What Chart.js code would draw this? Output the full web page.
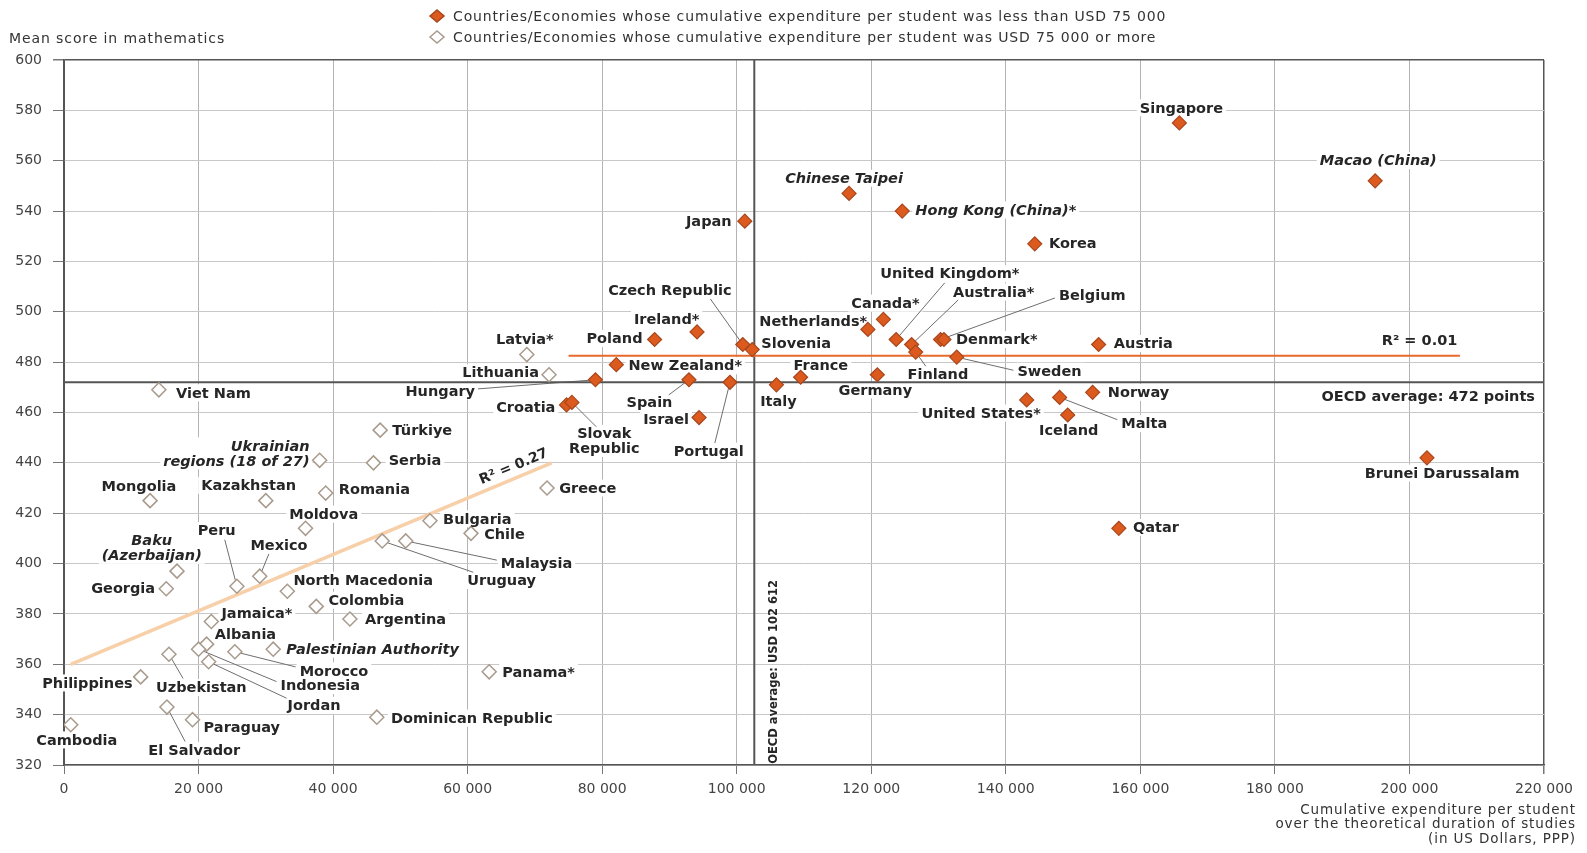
<!DOCTYPE html>
<html>
<head>
<meta charset="utf-8">
<script src="https://cdn.jsdelivr.net/npm/chart.js@4.4.1/dist/chart.umd.min.js"></script>
<style>
html,body{margin:0;padding:0;background:#fff;}
#wrap{width:1587px;height:853px;position:relative;}
canvas{display:block;}
</style>
</head>
<body>
<div id="wrap"><canvas id="c" width="1587" height="853"></canvas></div>
<script>
// ---------------- DATA ----------------
const filledNames = ['Singapore','Macao (China)','Chinese Taipei','Hong Kong (China)*','Japan','Korea','Canada*','Netherlands*','United Kingdom*','Australia*','Finland','Belgium','Denmark*','Austria','Sweden','Czech Republic','Slovenia','Ireland*','Poland','New Zealand*','Hungary','Croatia','Slovak Republic','Spain','Israel','Portugal','Italy','France','Germany','United States*','Malta','Iceland','Norway','Qatar','Brunei Darussalam'];
const filledX = [165800,194900,116700,124600,101200,144300,121800,119500,123700,126000,126600,130300,130800,153800,132700,100900,102300,94100,87800,82100,79000,74700,75500,92900,94400,99000,105900,109500,120900,143100,148000,149200,152900,156800,202600];
const filledY = [575,552,547,540,536,527,497,493,489,487,484,489,489,487,482,487,485,492,489,479,473,463,464,473,458,472,471,474,475,465,466,459,468,414,442];

const hollowNames = ['Latvia*','Lithuania','Viet Nam','Türkiye','Ukrainian regions (18 of 27)','Serbia','Greece','Romania','Mongolia','Kazakhstan','Bulgaria','Moldova','Chile','Uruguay','Malaysia','Baku (Azerbaijan)','Peru','Mexico','Georgia','North Macedonia','Colombia','Jamaica*','Argentina','Albania','Palestinian Authority','Morocco','Indonesia','Jordan','Uzbekistan','Philippines','Panama*','Dominican Republic','Paraguay','El Salvador','Cambodia'];
const hollowX = [68800,72100,14100,47000,38000,46000,71800,38900,12800,30000,54400,35900,60500,47300,50800,16800,25700,29100,15200,33200,37500,21900,42500,21200,31100,25400,20000,21500,15600,11400,63200,46500,19100,15300,1000];
const hollowY = [483,475,469,453,441,440,430,428,425,425,417,414,412,409,409,397,391,395,390,389,383,377,378,368,366,365,366,361,364,355,357,339,338,343,336];

const trendHollowX = [1000, 72500];
const trendHollowY = [360, 440];
const trendFilledX = [75000, 207500];
const trendFilledY = [482.5, 482.5];

const oecdScore = 472;
const oecdSpend = 102612;

const xTickValues = [0,20000,40000,60000,80000,100000,120000,140000,160000,180000,200000,220000];
const yTickValues = [320,340,360,380,400,420,440,460,480,500,520,540,560,580,600];

const legendLabels = [
  'Countries/Economies whose cumulative expenditure per student was less than USD 75 000',
  'Countries/Economies whose cumulative expenditure per student was USD 75 000 or more'
];
const yTitle = 'Mean score in mathematics';
const xTitleLines = ['Cumulative expenditure per student','over the theoretical duration of studies','(in US Dollars, PPP)'];
const r2Filled = 'R\u00B2 = 0.01';
const r2Hollow = 'R\u00B2 = 0.27';
const oecdScoreText = 'OECD average: 472 points';
const oecdSpendText = 'OECD average: USD 102 612';

// ---------------- LABEL LAYOUT (pixel offsets from each point, separate from data) ----------------
// [dx, dy, align, leaderDx, leaderDy]
const labelLayout = {
 'Singapore':[2,-15,'c'], 'Macao (China)':[3,-20,'c'], 'Chinese Taipei':[-5,-15,'c'],
 'Hong Kong (China)*':[13,-1,'l'], 'Japan':[-13,0,'r'], 'Korea':[14,-1,'l'],
 'Czech Republic':[-72,-54,'c',-32,-45], 'Ireland*':[-30,-13,'c'], 'Poland':[-12,-1,'r'],
 'Netherlands*':[-54,-8,'c'], 'Canada*':[2,-16,'c'],
 'United Kingdom*':[53,-65,'c',48,-56], 'Australia*':[81,-52,'c',46,-44],
 'Belgium':[117,-44,'l',113,-41], 'Denmark*':[12,0,'l'], 'Finland':[22,22,'c',10,14],
 'Sweden':[60,14,'l',56,13], 'Austria':[15,-1,'l'], 'Slovenia':[9,-6,'l'],
 'New Zealand*':[12,1,'l'], 'Hungary':[-119,11,'r',-116,9], 'Croatia':[-11,2,'r'],
 'Slovak Republic':[32,38,'c',24,24], 'Spain':[-39,22,'c',-20,15], 'Israel':[-10,2,'r'],
 'Portugal':[-21,68,'c',-15,60], 'Italy':[2,16,'c'], 'France':[20,-12,'c'],
 'Germany':[-2,15,'c'], 'United States*':[-45,13,'c'], 'Iceland':[1,15,'c'],
 'Malta':[61,26,'l',57,22], 'Norway':[15,0,'l'], 'Qatar':[14,-1,'l'],
 'Brunei Darussalam':[15,15,'c'],
 'Latvia*':[-2,-15,'c'], 'Lithuania':[-10,-2,'r'], 'Viet Nam':[17,3,'l'], 'Türkiye':[12,0,'l'],
 'Ukrainian regions (18 of 27)':[-10,-7,'r'], 'Serbia':[15,-3,'l'], 'Greece':[12,0,'l'],
 'Romania':[13,-4,'l'], 'Mongolia':[-11,-14,'c'], 'Kazakhstan':[-17,-15,'c'],
 'Bulgaria':[13,-2,'l'], 'Moldova':[18,-14,'c'], 'Chile':[13,1,'l'],
 'Malaysia':[94,22,'l',90,19], 'Uruguay':[84,39,'l',90,31],
 'Baku (Azerbaijan)':[-25,-23,'c'], 'Peru':[-20,-55,'c',-12,-46], 'Mexico':[19,-31,'c',9,-22],
 'Georgia':[-11,-1,'r'], 'North Macedonia':[6,-11,'l'], 'Colombia':[12,-6,'l'],
 'Jamaica*':[10,-8,'l'], 'Argentina':[15,0,'l'], 'Albania':[8,-10,'l'],
 'Palestinian Authority':[13,0,'l'], 'Morocco':[64,19,'l',60,15], 'Indonesia':[81,36,'l',77,32],
 'Jordan':[78,43,'l',77,36], 'Uzbekistan':[32,33,'c',14,24], 'Philippines':[-8,6,'r'],
 'Panama*':[13,0,'l'], 'Dominican Republic':[14,1,'l'], 'Paraguay':[11,7,'l'],
 'El Salvador':[27,43,'c',18,34], 'Cambodia':[6,15,'c']
};
const italicLabels = ['Chinese Taipei','Hong Kong (China)*','Macao (China)','Ukrainian regions (18 of 27)','Baku (Azerbaijan)','Palestinian Authority'];
const splitLabels = {
  'Slovak Republic':['Slovak','Republic'],
  'Ukrainian regions (18 of 27)':['Ukrainian','regions (18 of 27)'],
  'Baku (Azerbaijan)':['Baku','(Azerbaijan)']
};

// ---------------- STYLE ----------------
const K = 1.012;
const FONT = '"DejaVu Sans", "Liberation Sans", Arial, sans-serif';
const LBL_SIZE = 14.5;
const LH = 15;
const FILL_ORANGE = '#dc5a1e';
const EDGE_ORANGE = '#a8461c';
const HOLLOW_EDGE = '#a89a8c';

const fmt = v => String(v).replace(/\B(?=(\d{3})+(?!\d))/g, ' ');

function eachLabel(chart, fn) {
  const xs = chart.scales.x, ys = chart.scales.y, ctx = chart.ctx;
  const groups = [[filledNames, filledX, filledY], [hollowNames, hollowX, hollowY]];
  groups.forEach(([names, X, Y]) => {
    names.forEach((name, i) => {
      const L = labelLayout[name];
      if (!L) return;
      const px = xs.getPixelForValue(X[i]), py = ys.getPixelForValue(Y[i]);
      const lines = splitLabels[name] || [name];
      const font = (italicLabels.includes(name) ? 'italic ' : '') + 'bold ' + LBL_SIZE + 'px ' + FONT;
      ctx.font = font;
      const w = Math.max(...lines.map(t => ctx.measureText(t).width));
      const h = lines.length * LH;
      const cx = px + L[0] * K, cy = py + L[1] * K;
      const align = L[2] === 'l' ? 'left' : (L[2] === 'r' ? 'right' : 'center');
      const left = align === 'left' ? cx : (align === 'right' ? cx - w : cx - w / 2);
      const top = cy - h / 2;
      fn({px, py, lines, w, h, cx, cy, left, top, align, font, L});
    });
  });
}

function setSpacing(ctx, v) { if ('letterSpacing' in ctx) ctx.letterSpacing = v; }

const labelPlugin = {
  id: 'countryLabels',
  beforeDatasetsDraw(chart) {
    const ctx = chart.ctx;
    ctx.save();
    eachLabel(chart, g => {
      ctx.fillStyle = '#ffffff';
      ctx.fillRect(g.left - 3, g.top - 1, g.w + 6, g.h + 2);
    });
    eachLabel(chart, g => {
      if (g.L.length > 3) {
        ctx.strokeStyle = '#6e6e6e';
        ctx.lineWidth = 1;
        ctx.beginPath();
        ctx.moveTo(g.px, g.py);
        ctx.lineTo(g.px + g.L[3] * K, g.py + g.L[4] * K);
        ctx.stroke();
      }
    });
    ctx.restore();
  },
  afterDatasetsDraw(chart) {
    const ctx = chart.ctx;
    ctx.save();
    eachLabel(chart, g => {
      ctx.font = g.font;
      ctx.fillStyle = '#262626';
      ctx.textAlign = g.align;
      ctx.textBaseline = 'middle';
      g.lines.forEach((t, k) => ctx.fillText(t, g.cx, g.top + LH * (k + 0.5) + 1));
    });
    ctx.restore();
  },
  afterDraw(chart) {
    const ctx = chart.ctx, xs = chart.scales.x, ys = chart.scales.y, ca = chart.chartArea;
    ctx.save();
    // R2 (filled)
    ctx.font = 'bold ' + LBL_SIZE + 'px ' + FONT;
    ctx.fillStyle = '#262626';
    ctx.textAlign = 'center';
    ctx.textBaseline = 'middle';
    ctx.fillText(r2Filled, xs.getPixelForValue(201500), ys.getPixelForValue(488.5));
    // OECD avg score text
    ctx.textAlign = 'right';
    ctx.fillText(oecdScoreText, ca.right - 9, ys.getPixelForValue(oecdScore) + 15);
    // R2 (hollow), rotated along the trend line
    const x1 = xs.getPixelForValue(trendHollowX[0]), y1 = ys.getPixelForValue(trendHollowY[0]);
    const x2 = xs.getPixelForValue(trendHollowX[1]), y2 = ys.getPixelForValue(trendHollowY[1]);
    const ang = Math.atan2(y2 - y1, x2 - x1);
    const t = 0.93;
    const mx = x1 + (x2 - x1) * t, my = y1 + (y2 - y1) * t;
    ctx.save();
    ctx.translate(mx + Math.sin(ang) * 11, my - Math.cos(ang) * 11);
    ctx.rotate(ang);
    ctx.textAlign = 'center';
    ctx.font = 'bold 14px ' + FONT;
    ctx.fillText(r2Hollow, 0, 0);
    ctx.restore();
    // OECD spend text (vertical)
    ctx.save();
    ctx.translate(xs.getPixelForValue(oecdSpend) + 20, ys.getPixelForValue(357));
    ctx.rotate(-Math.PI / 2);
    ctx.textAlign = 'center';
    ctx.font = 'bold 11.5px ' + FONT;
    ctx.fillText(oecdSpendText, 0, 0);
    ctx.restore();
    // Y title
    ctx.font = '14px ' + FONT;
    ctx.fillStyle = '#333';
    ctx.textAlign = 'left';
    setSpacing(ctx, '0.9px');
    ctx.fillText(yTitle, 9, 39);
    // X title
    ctx.textAlign = 'right';
    ctx.font = '13.5px ' + FONT;
    setSpacing(ctx, '0.9px');
    xTitleLines.forEach((l, i) => ctx.fillText(l, 1576, 810 + i * 14.5));
    // Legend
    const mk = (cx, cy, filled) => {
      ctx.beginPath();
      ctx.moveTo(cx - 7, cy); ctx.lineTo(cx, cy - 6); ctx.lineTo(cx + 7, cy); ctx.lineTo(cx, cy + 6); ctx.closePath();
      ctx.fillStyle = filled ? FILL_ORANGE : '#fff';
      ctx.fill();
      ctx.lineWidth = 1.5;
      ctx.strokeStyle = filled ? EDGE_ORANGE : HOLLOW_EDGE;
      ctx.stroke();
    };
    legendLabels.forEach((txt, i) => {
      const cy = 16 + i * 21;
      mk(437, cy, i === 0);
      ctx.font = '14px ' + FONT;
      ctx.fillStyle = '#333';
      ctx.textAlign = 'left';
      setSpacing(ctx, '0.85px');
      ctx.fillText(txt, 453, cy + 1);
    });
    setSpacing(ctx, '0px');
    ctx.restore();
  }
};

const toXY = (X, Y) => X.map((x, i) => ({x, y: Y[i]}));

const chart = new Chart(document.getElementById('c'), {
  type: 'scatter',
  data: {
    datasets: [
      {
        label: legendLabels[0],
        data: toXY(filledX, filledY),
        pointStyle: 'rectRot', pointRadius: 7, pointBorderWidth: 1.2,
        backgroundColor: FILL_ORANGE, borderColor: EDGE_ORANGE, order: 0
      },
      {
        label: legendLabels[1],
        data: toXY(hollowX, hollowY),
        pointStyle: 'rectRot', pointRadius: 7, pointBorderWidth: 1.5,
        backgroundColor: '#ffffff', borderColor: HOLLOW_EDGE, order: 0
      },
      {
        label: 'trend hollow', data: toXY(trendHollowX, trendHollowY), showLine: true,
        pointRadius: 0, borderColor: '#f7cfa8', borderWidth: 3.5, order: 2
      },
      {
        label: 'trend filled', data: toXY(trendFilledX, trendFilledY), showLine: true,
        pointRadius: 0, borderColor: '#e8692d', borderWidth: 2, order: 1
      },
      {
        label: 'OECD score', data: [{x: 0, y: oecdScore}, {x: 220000, y: oecdScore}], showLine: true,
        pointRadius: 0, borderColor: '#555', borderWidth: 2, order: 3
      },
      {
        label: 'OECD spend', data: [{x: oecdSpend, y: 320}, {x: oecdSpend, y: 600}], showLine: true,
        pointRadius: 0, borderColor: '#555', borderWidth: 2, order: 3
      }
    ]
  },
  options: {
    responsive: false,
    animation: false,
    devicePixelRatio: 1,
    layout: { padding: { left: 0, top: 60, right: 43, bottom: 0 } },
    plugins: { legend: { display: false }, tooltip: { enabled: false } },
    scales: {
      x: {
        type: 'linear', min: 0, max: 220000,
        afterBuildTicks: s => { s.ticks = xTickValues.map(v => ({value: v})); },
        afterFit: s => { s.height = 88; },
        grid: {
          color: c => (c.tick && (c.tick.value === 0 || c.tick.value === 220000)) ? '#555' : '#b4b4b4',
          lineWidth: c => (c.tick && c.tick.value === 220000) ? 1.5 : 1,
          tickLength: 9, tickColor: '#777'
        },
        border: { color: '#555', width: 1.5 },
        ticks: {
          padding: 7, autoSkip: false, maxRotation: 0, color: '#444',
          font: { family: FONT, size: 14 },
          callback: v => fmt(v)
        }
      },
      y: {
        type: 'linear', min: 320, max: 600,
        afterBuildTicks: s => { s.ticks = yTickValues.map(v => ({value: v})); },
        afterFit: s => { s.width = 64; },
        grid: {
          color: c => (c.tick && c.tick.value === 600) ? '#555' : '#c8c8c8',
          lineWidth: c => (c.tick && c.tick.value === 600) ? 1.5 : 1,
          tickLength: 11, tickColor: '#777'
        },
        border: { color: '#555', width: 1.5 },
        ticks: { padding: 11, color: '#444', font: { family: FONT, size: 14 } }
      }
    }
  },
  plugins: [labelPlugin]
});
</script>
</body>
</html>
